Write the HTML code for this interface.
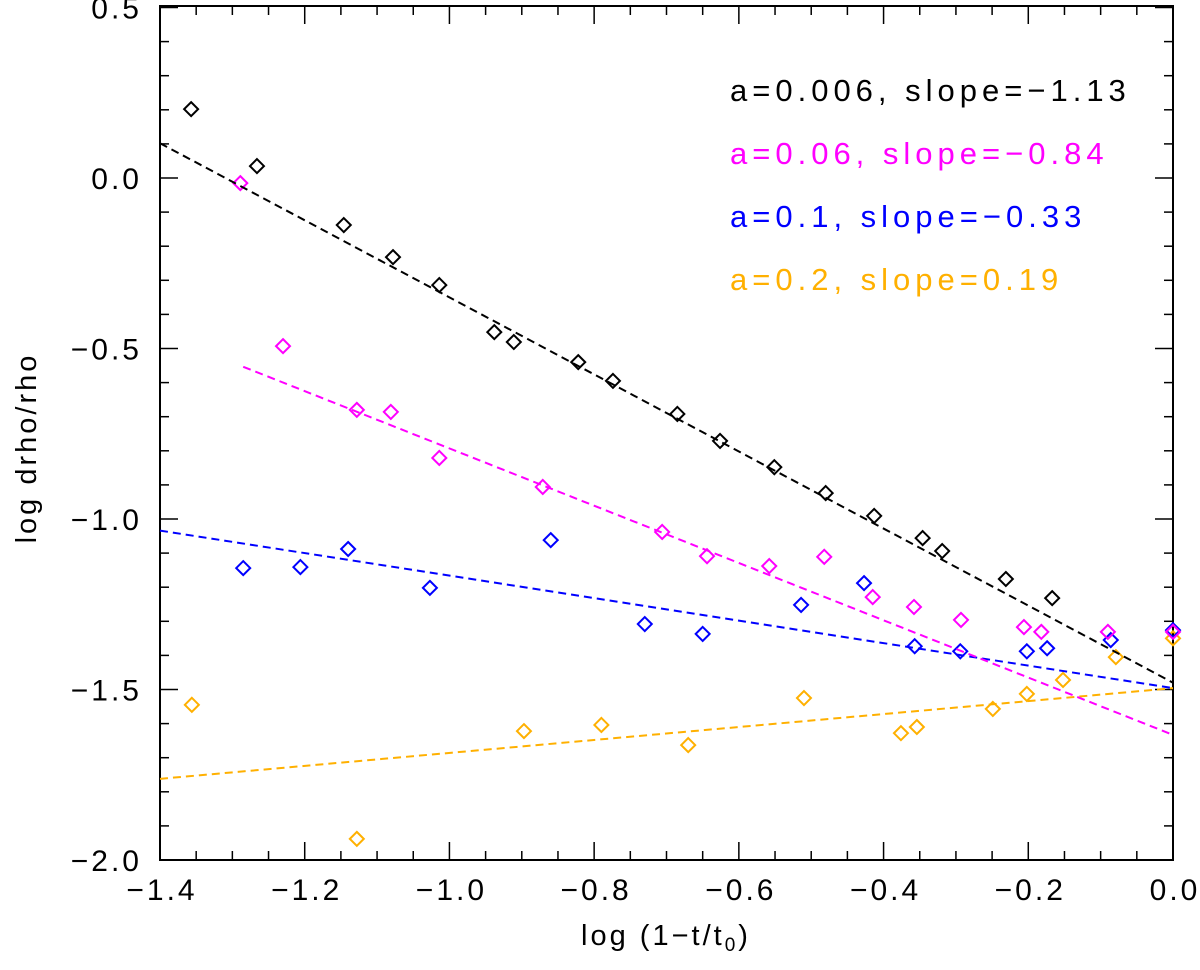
<!DOCTYPE html>
<html><head><meta charset="utf-8"><style>
body{margin:0;background:#fff;}
svg text{font-family:"Liberation Sans",sans-serif;}
</style></head><body>
<svg id="chart" width="1200" height="965" xmlns="http://www.w3.org/2000/svg"></svg>
<script>
const xTicks=[-1.4,-1.2,-1.0,-0.8,-0.6,-0.4,-0.2,0.0];
const xTickLabels=["\u22121.4","\u22121.2","\u22121.0","\u22120.8","\u22120.6","\u22120.4","\u22120.2","0.0"];
const yTicks=[-2.0,-1.5,-1.0,-0.5,0.0,0.5];
const yTickLabels=["\u22122.0","\u22121.5","\u22121.0","\u22120.5","0.0","0.5"];
const blackX=[-1.357,-1.266,-1.146,-1.078,-1.014,-0.938,-0.911,-0.822,-0.774,-0.685,-0.626,-0.551,-0.480,-0.413,-0.346,-0.319,-0.231,-0.167];
const blackY=[0.202,0.035,-0.138,-0.232,-0.314,-0.452,-0.481,-0.540,-0.595,-0.692,-0.771,-0.848,-0.924,-0.991,-1.056,-1.094,-1.176,-1.232];
const magX=[-1.289,-1.230,-1.128,-1.081,-1.014,-0.871,-0.706,-0.644,-0.558,-0.482,-0.415,-0.358,-0.293,-0.206,-0.182,-0.090,0];
const magY=[-0.015,-0.493,-0.680,-0.686,-0.821,-0.906,-1.038,-1.109,-1.138,-1.111,-1.229,-1.258,-1.296,-1.317,-1.331,-1.331,-1.331];
const blueX=[-1.285,-1.206,-1.140,-1.027,-0.860,-0.730,-0.650,-0.514,-0.427,-0.357,-0.294,-0.202,-0.174,-0.086,0];
const blueY=[-1.144,-1.141,-1.088,-1.202,-1.062,-1.308,-1.337,-1.252,-1.188,-1.373,-1.388,-1.388,-1.379,-1.355,-1.326];
const orX=[-1.356,-1.128,-0.897,-0.790,-0.670,-0.510,-0.376,-0.354,-0.249,-0.202,-0.152,-0.079,0];
const orY=[-1.545,-1.938,-1.622,-1.604,-1.663,-1.525,-1.628,-1.610,-1.557,-1.513,-1.472,-1.405,-1.35];
const fitSlopes=[-1.13,-0.84,-0.33,0.19];
const fitIntercepts=[-1.48,-1.633,-1.496,-1.496];
const fitStarts=[-1.4,-1.285,-1.4,-1.4];
const seriesColors=["#000000","#ff00ff","#0000ff","#ffb000"];
const legendLabels=["a=0.006, slope=\u22121.13","a=0.06, slope=\u22120.84","a=0.1, slope=\u22120.33","a=0.2, slope=0.19"];

const L=160,R=1173,T=6,B=860,X0=-1.4,X1=0;
const sx=v=>L+(v-X0)/(X1-X0)*(R-L);
const sy=v=>178-v*341;
const svg=document.getElementById('chart');
const NS="http://www.w3.org/2000/svg";
function mk(tag,attrs,parent){const e=document.createElementNS(NS,tag);for(const k in attrs)e.setAttribute(k,attrs[k]);(parent||svg).appendChild(e);return e;}

const frame=mk('rect',{x:L,y:T,width:R-L,height:B-T,fill:'none',stroke:'#000','stroke-width':2});



for(let v=-1.4;v<=0.0001;v+=0.05){
  const x=sx(v);const major=Math.abs(Math.round(v*5)-v*5)<1e-6;const len=major?18:9;
  mk('line',{x1:x,y1:B,x2:x,y2:B-len,stroke:'#000','stroke-width':1.5});
  mk('line',{x1:x,y1:T,x2:x,y2:T+len,stroke:'#000','stroke-width':1.5});
}
xTicks.forEach((v,i)=>{
  const t=mk('text',{x:sx(v)+2,y:900,'font-size':30,'letter-spacing':3,'text-anchor':'middle'});
  t.textContent=xTickLabels[i];
  
  
});
for(let v=-2.0;v<=0.5001;v+=0.1){
  const y=sy(v);const major=Math.abs(Math.round(v*2)-v*2)<1e-6;const len=major?18:9;
  mk('line',{x1:L,y1:y,x2:L+len,y2:y,stroke:'#000','stroke-width':1.5});
  mk('line',{x1:R,y1:y,x2:R-len,y2:y,stroke:'#000','stroke-width':1.5});
}
yTicks.forEach((v,i)=>{
  const t=mk('text',{x:142,y:sy(v)+11,'font-size':30,'letter-spacing':3,'text-anchor':'end'});
  t.textContent=yTickLabels[i];
  
  
});
const xt=mk('text',{x:666,y:945,'font-size':29,'letter-spacing':3,'text-anchor':'middle'});
xt.innerHTML='log (1\u2212t/t<tspan font-size="19" dy="6">0</tspan><tspan dy="-6">)</tspan>';


const yt=mk('text',{x:0,y:0,'font-size':29,'letter-spacing':3,'text-anchor':'middle',transform:'translate(36,448) rotate(-90)'});
yt.textContent='log drho/rho';



const seriesX=[blackX,magX,blueX,orX],seriesY=[blackY,magY,blueY,orY];
const names=['a-0.006','a-0.06','a-0.1','a-0.2'];
for(let s=3;s>=0;s--){
  const xa=fitStarts[s],xb=0;
  const ln=mk('line',{x1:sx(xa),y1:sy(fitIntercepts[s]+fitSlopes[s]*xa),x2:sx(xb),y2:sy(fitIntercepts[s]+fitSlopes[s]*xb),stroke:seriesColors[s],'stroke-width':2,'stroke-dasharray':'8,5'});
  
  
  seriesX[s].forEach((xv,i)=>{
    const cx=sx(xv),cy=sy(seriesY[s][i]),r=7;
    const p=mk('polygon',{points:`${cx},${cy-r} ${cx+r},${cy} ${cx},${cy+r} ${cx-r},${cy}`,fill:'none',stroke:seriesColors[s],'stroke-width':2});
    
    
  });
}
legendLabels.forEach((lab,i)=>{
  const t=mk('text',{x:730,y:101+i*63,'font-size':31,'letter-spacing':5,fill:seriesColors[i]});
  t.textContent=lab;
  
  
});
</script>
</body></html>
